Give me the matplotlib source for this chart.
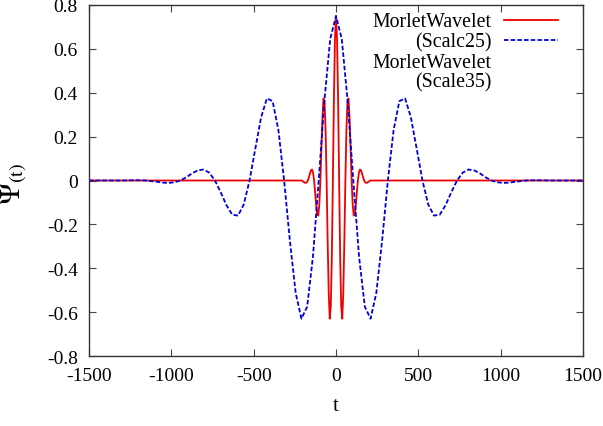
import matplotlib
matplotlib.use('Agg')
import matplotlib.pyplot as plt

# values
blue_t = [-1500, -1400, -1300, -1225, -1190, -1155, -1120, -1085, -1050, -1015, -980, -945,
          -910, -875, -840, -805, -770, -735, -700, -665, -630, -595, -560, -525,
          -490, -455, -420, -385, -350, -315, -280, -245, -210, -175, -140, -105,
          -70, -35, 0, 35, 70, 105, 140, 175, 210, 245, 280, 315,
          350, 385, 420, 455, 490, 525, 560, 595, 630, 665, 700, 735,
          770, 805, 840, 875, 910, 945, 980, 1015, 1050, 1085, 1120, 1155,
          1190, 1225, 1300, 1400, 1500]
blue_v = [0, 0, 0, 0.001, 0.001, 0, -0.003, -0.006, -0.010, -0.011, -0.008, 0,
          0.014, 0.032, 0.046, 0.050, 0.036, 0, -0.054, -0.113, -0.156, -0.160, -0.109, 0,
          0.145, 0.287, 0.374, 0.362, 0.231, 0, -0.275, -0.512, -0.630, -0.575, -0.347, 0,
          0.368, 0.646, 0.75, 0.646, 0.368, 0, -0.347, -0.575, -0.630, -0.512, -0.275, 0,
          0.231, 0.362, 0.374, 0.287, 0.145, 0, -0.109, -0.160, -0.156, -0.113, -0.054, 0,
          0.036, 0.050, 0.046, 0.032, 0.014, 0, -0.008, -0.011, -0.010, -0.006, -0.003, 0,
          0.001, 0.001, 0, 0, 0]

red_t = [-1500, -250, -209, -202.7, -196.3, -190, -183.7, -177.3, -171, -164.7, -158.3, -152,
         -145.7, -139.3, -133, -126.7, -120.3, -114, -107.7, -101.3, -95, -88.7, -82.3, -76,
         -69.7, -63.3, -57, -50.7, -44.3, -38, -31.7, -25.3, -19, -12.7, -6.3, 0,
         6.3, 12.7, 19, 25.3, 31.7, 38, 44.3, 50.7, 57, 63.3, 69.7, 76,
         82.3, 88.7, 95, 101.3, 107.7, 114, 120.3, 126.7, 133, 139.3, 145.7, 152,
         158.3, 164.7, 171, 177.3, 183.7, 190, 196.3, 202.7, 209, 250, 1500]
red_v = [0, 0, 0, -0.003, -0.006, -0.010, -0.011, -0.008, 0, 0.014, 0.032, 0.046,
         0.050, 0.036, 0, -0.054, -0.113, -0.156, -0.160, -0.109, 0, 0.145, 0.287, 0.374,
         0.362, 0.231, 0, -0.275, -0.512, -0.630, -0.575, -0.347, 0, 0.368, 0.646, 0.75,
         0.646, 0.368, 0, -0.347, -0.575, -0.630, -0.512, -0.275, 0, 0.231, 0.362, 0.374,
         0.287, 0.145, 0, -0.109, -0.160, -0.156, -0.113, -0.054, 0, 0.036, 0.050, 0.046,
         0.032, 0.014, 0, -0.008, -0.011, -0.010, -0.006, -0.003, 0, 0, 0]

x_ticks = [-1500, -1000, -500, 0, 500, 1000, 1500]
x_labels = ['-1500', '-1000', '-500', '0', '500', '1000', '1500']
y_ticks = [-0.8, -0.6, -0.4, -0.2, 0, 0.2, 0.4, 0.6, 0.8]
y_labels = ['-0.8', '-0.6', '-0.4', '-0.2', '0', '0.2', '0.4', '0.6', '0.8']

plt.rcParams['font.family'] = ['Liberation Serif', 'DejaVu Serif']
plt.rcParams['mathtext.fontset'] = 'stix'

fig = plt.figure(figsize=(6.03, 4.27), dpi=100)
ax = fig.add_axes([89/603, 1 - 357/427, 494/603, 351/427])

ax.plot(red_t, red_v, c='#ee0000', linewidth=1.3)
ax.plot(blue_t, blue_v, c='#0000dd', linewidth=1.3, linestyle=(0, (2.5, 1.2)))

ax.set_xlim(-1500, 1500)
ax.set_ylim(-0.8, 0.8)
ax.set_xticks(x_ticks)
ax.set_xticklabels(x_labels)
ax.set_yticks(y_ticks)
ax.set_yticklabels(y_labels)
ax.tick_params(direction='in', length=5, width=0.8, top=True, right=True,
               labelsize=14, pad=8, color='#444444')
for s in ax.spines.values():
    s.set_linewidth(1.0)
    s.set_color('#333333')

# gnuplot style key
fs = 14.3
ax.text(0.815, 0.9516, 'MorletWavelet', transform=ax.transAxes, ha='right', va='center', fontsize=fs)
ax.text(0.815, 0.8946, '(Scalc25)', transform=ax.transAxes, ha='right', va='center', fontsize=fs)
ax.text(0.815, 0.8376, 'MorletWavelet', transform=ax.transAxes, ha='right', va='center', fontsize=fs)
ax.text(0.815, 0.7806, '(Scale35)', transform=ax.transAxes, ha='right', va='center', fontsize=fs)
ax.plot([0.840, 0.949], [0.957, 0.957], transform=ax.transAxes, c='#ee0000', linewidth=1.3)
ax.plot([0.840, 0.949], [0.900, 0.900], transform=ax.transAxes, c='#0000dd', linewidth=1.3,
        linestyle=(0, (2.5, 1.2)))

fig.text(336/603, 1 - 407/427, 't', ha='center', va='center', fontsize=15)
fig.text(15/603, 1 - 184/427, r'$\Psi_{(\mathrm{t})}$', ha='center', va='center',
         fontsize=21, rotation=90)

fig.savefig('out.png', dpi=100)
